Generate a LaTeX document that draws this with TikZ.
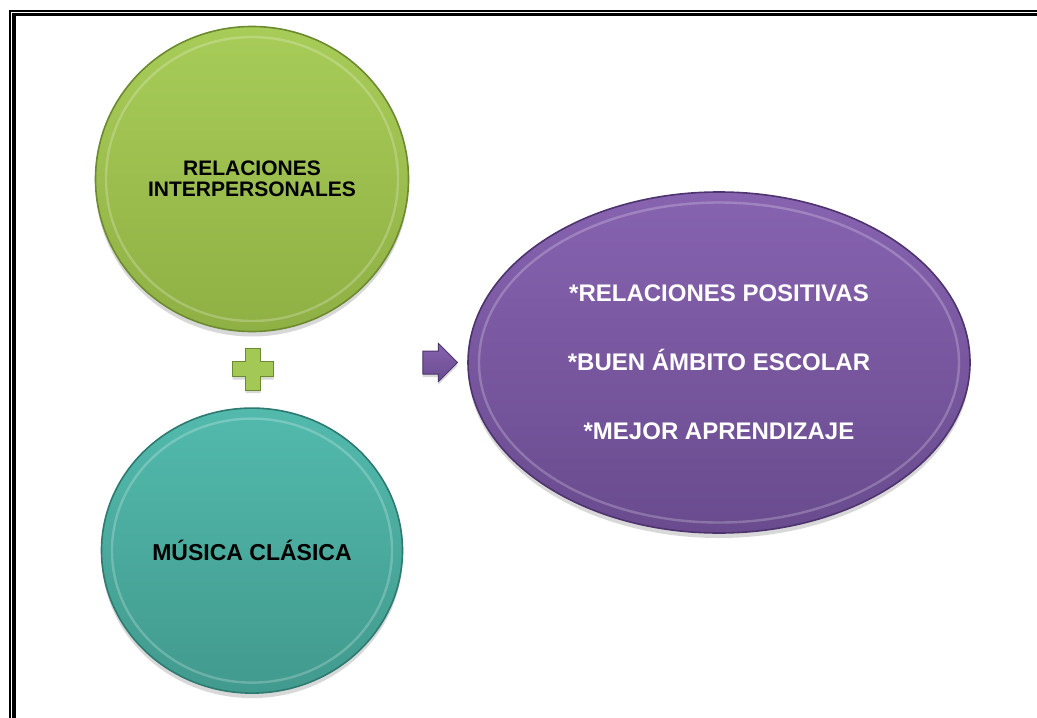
\documentclass[tikz,border=0pt]{standalone}
\usepackage{fontspec}
\setmainfont{Liberation Sans}
\usepackage{xcolor}
\usetikzlibrary{shapes.geometric,shapes.arrows}
\usetikzlibrary{shadows}
\usetikzlibrary{positioning}

\definecolor{verdeC}{HTML}{A8CC58}
\definecolor{verdeS}{HTML}{8FB044}
\definecolor{verdeB}{HTML}{6C8A30}
\definecolor{aguaC}{HTML}{52BAAD}
\definecolor{aguaS}{HTML}{419A8D}
\definecolor{aguaB}{HTML}{2E7A70}
\definecolor{moradoC}{HTML}{8763B0}
\definecolor{moradoS}{HTML}{694B8E}
\definecolor{moradoB}{HTML}{4D346E}

\begin{document}
\begin{tikzpicture}[x=0.5pt,y=-0.5pt]
\tikzset{burbuja/.style={ellipse,inner sep=0pt,line width=0.8pt,align=center,drop shadow={opacity=0.3,shadow xshift=0pt,shadow yshift=-2.5pt}}}
\tikzset{brillo/.style={draw=white,opacity=0.22,line width=1.2pt}}
\useasboundingbox[fill=white] (0,0) rectangle (1037,717);
% marco doble
\draw[line width=1pt] (10,11) rectangle (1100,800);
\draw[line width=1.7pt] (13.8,14.8) rectangle (1100,800);
% circulos
\node[burbuja,draw=verdeB,top color=verdeC,bottom color=verdeS,minimum width=156.5pt,minimum height=152.5pt,font=\bfseries\fontsize{10.5}{10.5}\selectfont](rel) at (252,179){RELACIONES\\INTERPERSONALES};
\node[burbuja,draw=aguaB,top color=aguaC,bottom color=aguaS,minimum width=150.5pt,minimum height=142.5pt,font=\bfseries\fontsize{11.5}{13}\selectfont](mus)[below=37.5pt of rel]{MÚSICA CLÁSICA};
\node[burbuja,draw=moradoB,top color=moradoC,bottom color=moradoS,minimum width=251pt,minimum height=170.5pt,text=white,font=\bfseries\fontsize{12}{34.5}\selectfont](res) at (719,362.5){*RELACIONES POSITIVAS\\*BUEN ÁMBITO ESCOLAR\\*MEJOR APRENDIZAJE};
\draw[brillo] (rel.center) ellipse [x radius=73pt, y radius=71pt];
\draw[brillo] (mus.center) ellipse [x radius=70pt, y radius=66pt];
\draw[brillo] (res.center) ellipse [x radius=120pt, y radius=80pt];
% signo mas
\coordinate (mas) at (253,369);
\path[fill=verdeC!85!verdeS,draw=verdeB,line width=0.5pt,drop shadow={opacity=0.3,shadow xshift=0pt,shadow yshift=-1.5pt}] ([shift={(-7.5,-21)}]mas) -- ++(15,0) -- ++(0,13.5) -- ++(13,0) -- ++(0,15) -- ++(-13,0) -- ++(0,13.5) -- ++(-15,0) -- ++(0,-13.5) -- ++(-13,0) -- ++(0,-15) -- ++(13,0) -- cycle;
% flecha
\node[single arrow,draw=moradoB,line width=0.5pt,top color=moradoC,bottom color=moradoS,inner sep=5.5pt,single arrow head extend=3.75pt,minimum height=16pt,drop shadow={opacity=0.3,shadow xshift=0pt,shadow yshift=-1.5pt}](flecha)[left=4.5pt of res]{};
\end{tikzpicture}
\end{document}
